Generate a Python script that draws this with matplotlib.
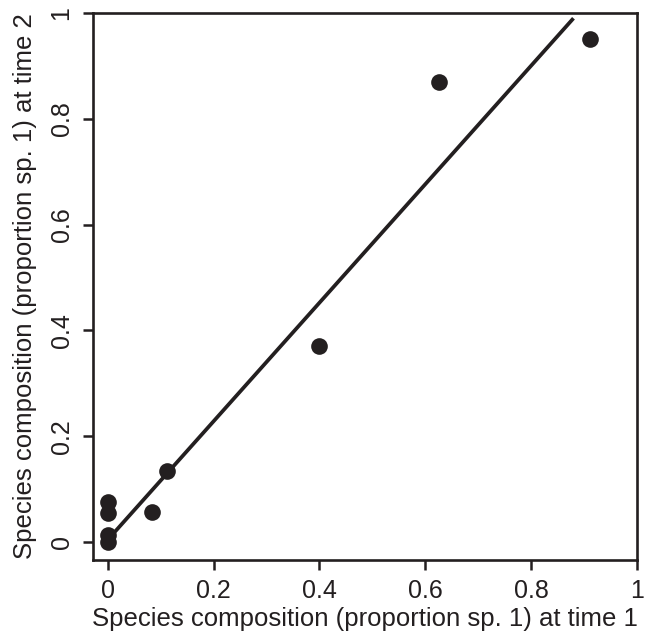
import matplotlib
matplotlib.use("Agg")
import matplotlib.pyplot as plt

# proportion of species 1 at time 1 and time 2
time1 = [0.0, 0.0, 0.0, 0.0, 0.083, 0.112, 0.40, 0.625, 0.911]
time2 = [0.0, 0.013, 0.055, 0.076, 0.057, 0.134, 0.37, 0.87, 0.951]

# fitted line end points
fit_x = [0.005, 0.88]
fit_y = [0.01, 0.99]

ticks = [0, 0.2, 0.4, 0.6, 0.8, 1]
tick_labels = ["0", "0.2", "0.4", "0.6", "0.8", "1"]

plt.rcParams["font.family"] = ["Liberation Sans", "DejaVu Sans"]

fig = plt.figure(figsize=(6.55, 6.39), dpi=100, facecolor="white")
ax = fig.add_axes([0.142, 0.1236, 0.8305, 0.8561])

ax.plot(fit_x, fit_y, color="#231f20", lw=2.7, solid_capstyle="butt", zorder=2)
ax.plot(time1, time2, "o", color="#231f20", ms=12, mew=0, zorder=3)

ax.set_xlim(-0.028, 1.0)
ax.set_ylim(-0.034, 1.0)

ax.set_xticks(ticks)
ax.set_xticklabels(tick_labels)
ax.set_yticks(ticks)
ax.set_yticklabels(tick_labels, rotation=90, va="center")
ax.tick_params(direction="out", length=7, width=1.8, color="#231f20",
               labelsize=18, pad=7, labelcolor="#231f20")

for sp in ax.spines.values():
    sp.set_linewidth(1.9)
    sp.set_color("#231f20")

ax.set_xlabel("Species composition (proportion sp. 1) at time 1",
              fontsize=18.5, color="#231f20")
ax.set_ylabel("Species composition (proportion sp. 1) at time 2",
              fontsize=18.5, color="#231f20")
ax.xaxis.set_label_coords(0.5, -0.085)
ax.yaxis.set_label_coords(-0.103, 0.5)

fig.savefig("out.png", dpi=100, facecolor="white")
